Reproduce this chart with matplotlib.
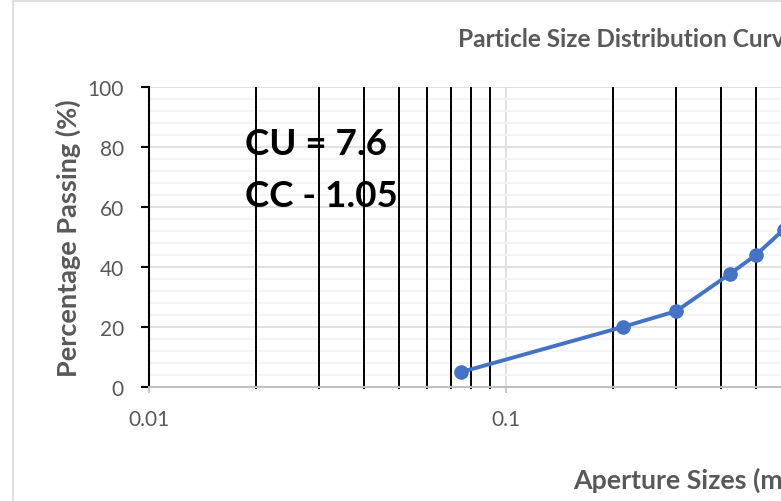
import matplotlib.pyplot as plt
from matplotlib.ticker import FixedLocator, MultipleLocator, NullFormatter
from matplotlib.patches import Rectangle

# sieve data (mm, % passing)
aperture = [0.075, 0.212, 0.3, 0.425, 0.5, 0.6, 1.18, 2.36, 4.75]
passing = [5, 20, 25.3, 37.8, 43.9, 52.5, 68, 85, 97]

x_major = [0.01, 0.1, 1, 10]
x_minor = [m * d for d in [0.01, 0.1, 1] for m in range(2, 10)]
y_major = [0, 20, 40, 60, 80, 100]

title = "Particle Size Distribution Curve"
xlab = "Aperture Sizes (mm)"
ylab = "Percentage Passing (%)"
cu_text = "CU = 7.6"
cc_text = "CC - 1.05"

W, H = 781, 502
fig = plt.figure(figsize=(W / 100, H / 100), dpi=100)
plt.rcParams['font.family'] = ['Lato', 'DejaVu Sans']

# chart border (cropped on the right and bottom)
fig.patches.append(Rectangle((13 / W, -0.1), 2, 1 - 2 / H + 0.1, transform=fig.transFigure,
                             fill=False, edgecolor="#d9d9d9", linewidth=1.2))

# plot area: 0.01 at x=149, one decade = 357 px, y 0..100 from 388 to 88
ax = fig.add_axes([149 / W, (H - 388) / H, 3 * 357 / W, 300 / H])
ax.set_xscale("log")
ax.set_xlim(0.01, 10)
ax.set_ylim(0, 100)

ax.xaxis.set_major_locator(FixedLocator(x_major))
ax.xaxis.set_minor_locator(FixedLocator(x_minor))
ax.xaxis.set_minor_formatter(NullFormatter())
ax.set_xticklabels([str(v) for v in x_major])
ax.yaxis.set_major_locator(FixedLocator(y_major))
ax.yaxis.set_minor_locator(MultipleLocator(4))

ax.grid(which="minor", axis="y", color="#f2f2f2", linewidth=1.1)
ax.grid(which="major", axis="y", color="#d9d9d9", linewidth=1.1)
ax.grid(which="major", axis="x", color="#d9d9d9", linewidth=1.1)
ax.set_axisbelow(True)
# black minor vertical gridlines sit above the horizontal ones
ax.vlines(x_minor, 0, 100, colors="black", linewidth=1.4, zorder=1)

for s in ["top", "right"]:
    ax.spines[s].set_visible(False)
ax.spines["left"].set_color("black")
ax.spines["left"].set_linewidth(1.5)
ax.spines["bottom"].set_color("#bfbfbf")
ax.spines["bottom"].set_linewidth(1.5)

ax.tick_params(axis="y", which="major", length=6, width=1.5, color="black",
               labelsize=15, labelcolor="#595959", pad=12)
ax.tick_params(axis="y", which="minor", length=0)
ax.tick_params(axis="x", which="major", length=4, width=1.2, color="#bfbfbf",
               labelsize=15, labelcolor="#595959", pad=12)
ax.tick_params(axis="x", which="minor", length=1.5, width=1.4, color="black")

ax.plot(aperture, passing, color="#4472c4", linewidth=2.8, marker="o",
        markersize=9.5, clip_on=True, zorder=3)

fig.text(245 / W, 1 - 155 / H, cu_text, fontsize=26.5, fontweight="bold",
         color="black", va="baseline", ha="left")
fig.text(245 / W, 1 - 207 / H, cc_text, fontsize=26.5, fontweight="bold",
         color="black", va="baseline", ha="left")

fig.text(458 / W, 1 - 46.7 / H, title, fontsize=17.6, fontweight="bold",
         color="#595959", ha="left", va="baseline")
fig.text(573 / W, 1 - 489 / H, xlab, fontsize=19.3, fontweight="bold",
         color="#595959", ha="left", va="baseline")
fig.text(68 / W, 1 - 238 / H, ylab, fontsize=19.5, fontweight="bold",
         color="#595959", ha="center", va="center", rotation=90)

fig.savefig("out.png", dpi=100)
